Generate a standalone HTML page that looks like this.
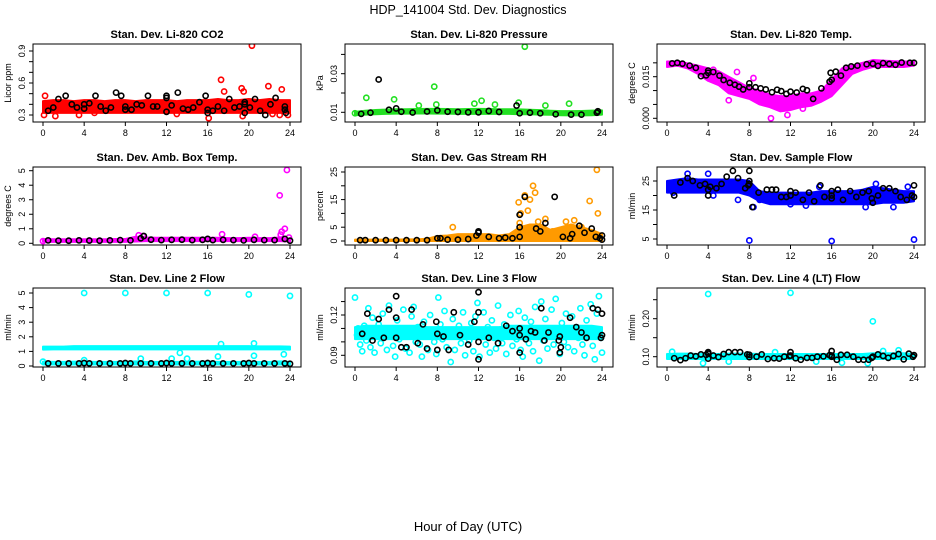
<!DOCTYPE html>
<html><head><meta charset="utf-8"><style>
body{margin:0;background:#fff}
svg{display:block;font-family:"Liberation Sans",sans-serif}
</style></head><body>
<svg id="c" width="936" height="540" viewBox="0 0 936 540">
<text x="468" y="14" text-anchor="middle" font-size="12.5">HDP_141004  Std. Dev. Diagnostics</text>
<text x="468" y="531" text-anchor="middle" font-size="13">Hour of Day (UTC)</text>
</svg>
<script>
const bandHours=[0,1,2,3,4,5,6,7,8,9,10,11,12,13,14,15,16,17,18,19,20,21,22,23,24];
const xTicks=[0,4,8,12,16,20,24];
// P1 CO2
const co2BandLo=[0.32,0.32,0.32,0.32,0.32,0.32,0.32,0.32,0.32,0.32,0.32,0.32,0.32,0.32,0.32,0.32,0.32,0.32,0.32,0.32,0.32,0.32,0.32,0.32,0.32];
const co2BandHi=[0.43,0.44,0.44,0.43,0.44,0.44,0.43,0.44,0.44,0.43,0.44,0.44,0.44,0.43,0.44,0.44,0.44,0.45,0.44,0.44,0.45,0.44,0.45,0.44,0.44];
const co2RedX=[0.1,0.2,1.2,3.5,5,13,16.1,17.3,17.6,19.3,19.5,20.3,21.9,23.2,23.8,22.3,19.4,23];
const co2RedY=[0.3,0.48,0.29,0.3,0.32,0.31,0.27,0.63,0.52,0.55,0.52,0.95,0.57,0.54,0.3,0.31,0.29,0.3];
const co2BlkX=[0.5,1,1.5,2.2,2.8,3.3,4,4,4.5,5.1,5.6,6.1,6.6,7.1,7.6,8,8,8.6,9.1,9.6,10.2,10.7,11.1,12,12,12,12.5,13.1,13.6,14.1,14.6,15.2,15.8,16,16,16.5,17,17.6,18.1,18.6,19.1,19.6,19.6,19.6,20.1,20.6,21.1,21.6,22.1,22.6,23.5,23.5,23.6];
const co2BlkY=[0.34,0.37,0.45,0.48,0.4,0.37,0.4,0.36,0.41,0.48,0.38,0.34,0.37,0.51,0.48,0.38,0.35,0.35,0.4,0.39,0.48,0.38,0.38,0.48,0.46,0.33,0.39,0.51,0.36,0.35,0.37,0.42,0.48,0.35,0.32,0.34,0.38,0.34,0.45,0.37,0.38,0.42,0.32,0.4,0.37,0.45,0.34,0.3,0.4,0.46,0.38,0.35,0.32];
// P2 Pressure
const prBandLo=[0.0085,0.0088,0.009,0.0092,0.0093,0.0093,0.0094,0.0094,0.0093,0.0093,0.0092,0.0092,0.0092,0.0092,0.0092,0.0092,0.009,0.009,0.0088,0.0087,0.0085,0.0084,0.0084,0.0085,0.0088];
const prBandHi=[0.0102,0.0108,0.0112,0.0114,0.0116,0.0116,0.0117,0.0118,0.0118,0.0117,0.0116,0.0117,0.0118,0.0117,0.0116,0.0116,0.0115,0.0113,0.0111,0.0108,0.0106,0.0106,0.0107,0.0109,0.011];
const prGrnX=[1.1,3.8,7.7,12.3,16.5,20.8,15.9,11.6,0,6.2,7.9,13.6,18.5];
const prGrnY=[0.0175,0.0167,0.0233,0.016,0.044,0.0145,0.015,0.0145,0.0095,0.0135,0.014,0.014,0.0135];
const prBlkX=[2.3,0.6,1.5,3.3,4,4.5,5.6,7,8,9,10,11,12,13,14,15.7,16,17,18,19.5,21,22,23.5,23.6];
const prBlkY=[0.027,0.0092,0.0098,0.0113,0.012,0.0103,0.0099,0.0104,0.011,0.0103,0.0102,0.01,0.01,0.0107,0.0102,0.0135,0.0095,0.0098,0.0095,0.009,0.0088,0.0088,0.0098,0.0105];
// P3 Li-820 temp
const tpBandLo=[0.0185,0.019,0.018,0.016,0.0135,0.012,0.009,0.008,0.007,0.005,0.004,0.0025,0.003,0.004,0.0045,0.006,0.008,0.012,0.016,0.0175,0.0185,0.0185,0.0185,0.0185,0.019];
const tpBandHi=[0.0205,0.0205,0.0198,0.019,0.018,0.017,0.015,0.013,0.011,0.01,0.0085,0.008,0.008,0.009,0.009,0.01,0.014,0.018,0.019,0.02,0.021,0.0208,0.0206,0.0205,0.0205];
const tpMagX=[10.1,6.8,11.7,8.4,6,4.5,13.2];
const tpMagY=[0.0,0.0167,0.0012,0.0145,0.0065,0.0175,0.0035];
const tpBlkX=[0.5,1,1.5,2.2,2.8,3.3,3.8,4,4,4.5,5.1,5.5,6.1,6.6,7,7.4,8,8,8.6,9.1,9.6,10.2,10.7,11.1,11.6,12,12.6,13.2,13.6,14.2,15,15.8,15.9,16,16.4,16.9,17.4,17.9,18.5,19.4,20,20.5,21,21.6,22.2,22.8,23.6,24];
const tpBlkY=[0.0198,0.02,0.0197,0.019,0.0182,0.0152,0.0155,0.0172,0.0164,0.0167,0.0154,0.0138,0.0128,0.0121,0.0114,0.0104,0.0126,0.0112,0.0112,0.0108,0.0104,0.0094,0.0103,0.0098,0.0088,0.0096,0.0093,0.0106,0.0101,0.007,0.0108,0.0132,0.0164,0.0139,0.0168,0.0154,0.0182,0.0187,0.019,0.0195,0.0197,0.0189,0.0199,0.0196,0.0193,0.0201,0.02,0.02];
// P4 Amb box temp
const abBandLo=[0.1,0.1,0.1,0.1,0.1,0.1,0.1,0.1,0.1,0.12,0.15,0.15,0.15,0.15,0.15,0.15,0.15,0.15,0.15,0.15,0.15,0.15,0.15,0.15,0.12];
const abBandHi=[0.3,0.28,0.28,0.28,0.28,0.28,0.28,0.3,0.3,0.45,0.4,0.38,0.38,0.38,0.38,0.38,0.38,0.38,0.36,0.36,0.38,0.36,0.36,0.4,0.3];
const abMagX=[9.3,9.7,17.4,20.6,23,23.2,23.5,23.7,23.1,23.9,0];
const abMagY=[0.55,0.5,0.62,0.45,3.3,0.8,1.0,5.05,0.6,0.4,0.15];
const abBlkX=[0.5,1.5,2.5,3.5,4.5,5.5,6.5,7.5,8.5,9.5,9.8,10.5,11.5,12.5,13.5,14.5,15.5,16,16.5,17.5,18.5,19.5,20.5,21.5,22.5,23.5,24];
const abBlkY=[0.2,0.18,0.18,0.2,0.19,0.18,0.2,0.22,0.2,0.35,0.5,0.25,0.22,0.24,0.25,0.22,0.24,0.3,0.22,0.24,0.22,0.2,0.24,0.22,0.22,0.3,0.18];
// P5 Gas stream RH
const rhBandLo=[0,0,0,0,0,0,0,0,0,0,0,0,0,0,0,0,0,0,0,0,0,0,0,0,0];
const rhBandHi=[0.5,0.5,0.5,0.5,0.5,0.6,0.6,0.8,1.8,2,2.5,2.5,2.5,2.5,2,2.5,5,6,6,4,5,6,5,4,2.5];
const rhOrX=[15.9,16.1,16.5,16.8,17,17.3,17.5,18.5,16,22.8,23.5,23.6,9.5,22,21.3,17.8,20.5,19.2];
const rhOrY=[14,10,16.5,11,15,20,17.5,8,6.5,14.5,25.8,10,5,5,7.5,7,7,3.5];
const rhBlkX=[0.5,1,2,3,4,5,6,7,8,8.3,9,10,11,11.8,12,12,13,14,14.6,15.3,16,16,16,16.5,17.6,18,18.5,19.4,20.2,20.9,21.1,21.8,22.3,23,23.4,23.8,24,24];
const rhBlkY=[0.3,0.3,0.3,0.3,0.3,0.3,0.3,0.3,1,1,0.5,0.5,0.7,2,3.5,3,1.5,1,1.2,1,1.5,5,9.5,16,4.5,3.5,6.5,16,1.5,1,2.5,5.5,3,4.5,1.5,1,2,0.5];
// P6 Sample flow
const sfBandLo=[21,21,21,21,21,21,21,21,20,18,17,17,17,17,17,17,17,17,17,17,17,17.5,17.5,17.5,18];
const sfBandHi=[25,25.5,26,25.5,25.5,25.5,25.5,25.5,25,21.5,21,21,21,21,21,21.5,21.5,21.5,21.5,22,23,22.5,22,21.5,21.5];
const sfBluX=[8,16,24,2,4,6.9,9,8.4,22,0.6,4.5,13.5,19.3,12,14.8,20.3,23.4];
const sfBluY=[4.5,4.3,4.8,27.5,27.5,18.5,18.5,16,16,21,20,16.5,16,17,23,24,23];
const sfBlkX=[0.7,1.3,2,2.5,3.2,3.7,4,4,4.2,4.8,5.3,5.8,6.4,6.9,7.6,7.9,8,8,8,8.3,8.9,9.7,10.2,10.6,11.1,11.6,12,12,12.5,13.2,13.8,14.3,14.9,15.3,16,16,16,16.6,17.1,17.8,18.4,19,19.6,19.9,20,20.5,21,21.6,22.2,22.7,23.3,23.8,24,24];
const sfBlkY=[20,24.5,26,25,23.5,24,22,20,23,22.5,24,26.5,28.5,26,22.5,23.5,28.5,25,24,16,21,22,22,22,19.5,19.5,21.5,20,21,18.5,21,18,23.5,19.5,21.5,20,19,22,18.5,21.5,19.5,21,21.5,19,17.5,20,22.5,22.5,21.5,19.5,18.5,20,23.5,19.5];
// P7 Line 2 flow
const l2BandLo=[1.12,1.14,1.14,1.14,1.14,1.14,1.14,1.14,1.14,1.14,1.14,1.14,1.14,1.14,1.14,1.14,1.14,1.14,1.14,1.14,1.14,1.14,1.14,1.14,1.12];
const l2BandHi=[1.33,1.33,1.33,1.36,1.36,1.36,1.36,1.36,1.36,1.36,1.36,1.36,1.36,1.36,1.36,1.36,1.36,1.36,1.36,1.36,1.36,1.34,1.34,1.34,1.33];
const l2LowLo=[0.1,0.1,0.1,0.1,0.1,0.1,0.1,0.1,0.1,0.1,0.1,0.1,0.1,0.1,0.1,0.1,0.1,0.1,0.1,0.1,0.1,0.1,0.1,0.1,0.1];
const l2LowHi=[0.3,0.28,0.28,0.3,0.3,0.28,0.28,0.28,0.28,0.32,0.28,0.28,0.28,0.28,0.28,0.3,0.3,0.28,0.28,0.28,0.28,0.28,0.28,0.32,0.28];
const l2CyX=[4,8,12,16,20,24,0,13.3,17,20.5,23.4,20.5,17.3,12.5,14,9.5,4];
const l2CyY=[5,5,5,5,4.9,4.8,0.3,0.9,0.65,0.7,0.8,1.55,1.5,0.5,0.5,0.5,0.4];
const l2BlkX=[0.5,1.5,2.5,3.5,4,4.5,5.5,6.5,7.5,8,8.5,9.5,10.5,11.5,12,12.5,13.5,14.5,15.5,16,16.5,17.5,18.5,19.5,20,20.5,21.5,22.5,23.5,24];
const l2BlkY=[0.18,0.18,0.18,0.18,0.2,0.18,0.18,0.18,0.18,0.2,0.18,0.18,0.18,0.18,0.2,0.18,0.18,0.18,0.18,0.2,0.18,0.18,0.18,0.18,0.2,0.18,0.18,0.18,0.18,0.15];
// P8 Line 3 flow
const l3BandLo=[0.102,0.102,0.102,0.102,0.102,0.102,0.102,0.102,0.102,0.102,0.102,0.102,0.102,0.102,0.102,0.102,0.102,0.102,0.102,0.102,0.102,0.102,0.102,0.102,0.102];
const l3BandHi=[0.111,0.112,0.112,0.112,0.112,0.112,0.112,0.111,0.111,0.111,0.111,0.111,0.111,0.111,0.111,0.112,0.112,0.112,0.112,0.112,0.112,0.112,0.112,0.112,0.111];
const l3CyX=[0,0.2,0.3,0.5,0.7,0.9,1.1,1.3,1.5,1.7,1.9,2.1,2.3,2.5,2.7,2.9,3.1,3.3,3.5,3.7,3.9,4.1,4.3,4.5,4.7,4.9,5.1,5.3,5.5,5.7,5.9,6.1,6.3,6.5,6.7,6.9,7.1,7.3,7.5,7.7,7.9,8.1,8.3,8.5,8.7,8.9,9.1,9.3,9.5,9.7,9.9,10.1,10.3,10.5,10.7,10.9,11.1,11.3,11.5,11.7,11.9,12.1,12.3,12.5,12.7,12.9,13.1,13.3,13.5,13.7,13.9,14.1,14.3,14.5,14.7,14.9,15.1,15.3,15.5,15.7,15.9,16.1,16.3,16.5,16.7,16.9,17.1,17.3,17.5,17.7,17.9,18.1,18.3,18.5,18.7,18.9,19.1,19.3,19.5,19.7,19.9,20.1,20.3,20.5,20.7,20.9,21.1,21.3,21.5,21.7,21.9,22.1,22.3,22.5,22.7,22.9,23.1,23.3,23.5,23.7,23.9,24];
const l3CyY=[0.133,0.105,0.11,0.098,0.093,0.112,0.101,0.125,0.096,0.118,0.092,0.107,0.113,0.099,0.121,0.104,0.094,0.127,0.109,0.097,0.089,0.116,0.102,0.11,0.124,0.095,0.106,0.092,0.119,0.126,0.1,0.111,0.098,0.089,0.115,0.105,0.094,0.12,0.108,0.1,0.091,0.133,0.113,0.102,0.123,0.096,0.107,0.085,0.117,0.094,0.104,0.112,0.099,0.122,0.09,0.108,0.101,0.114,0.093,0.119,0.129,0.089,0.106,0.122,0.098,0.111,0.092,0.116,0.103,0.095,0.127,0.108,0.099,0.113,0.091,0.105,0.12,0.097,0.11,0.102,0.123,0.094,0.089,0.118,0.106,0.099,0.115,0.093,0.126,0.108,0.086,0.13,0.101,0.117,0.095,0.109,0.124,0.098,0.132,0.104,0.091,0.114,0.1,0.121,0.096,0.107,0.119,0.093,0.111,0.103,0.125,0.098,0.09,0.116,0.106,0.128,0.097,0.087,0.121,0.134,0.103,0.092];
const l3BlkX=[0.7,1.2,1.7,2.3,2.8,3.3,4,4,4,4.5,5,5.5,6.1,6.6,7,7.9,8,8,8.6,9.1,9.6,10.2,11,11.6,12,12,12,12,13,13.9,14.7,15.3,16,16,16,16.6,17.1,17.5,18.1,18.4,18.8,19.8,19.9,19.9,20,20.9,21.5,22,22.5,23.1,23.6,23.9,24,24];
const l3BlkY=[0.106,0.121,0.101,0.117,0.103,0.124,0.103,0.118,0.134,0.096,0.096,0.124,0.099,0.113,0.095,0.115,0.106,0.094,0.104,0.094,0.122,0.105,0.098,0.115,0.087,0.1,0.122,0.137,0.103,0.099,0.112,0.108,0.105,0.11,0.092,0.102,0.108,0.107,0.125,0.101,0.107,0.101,0.104,0.092,0.096,0.118,0.111,0.107,0.103,0.125,0.124,0.103,0.121,0.105];
// P9 Line 4 flow
const l4BandLo=[0.094,0.094,0.094,0.094,0.094,0.094,0.094,0.094,0.094,0.094,0.094,0.094,0.094,0.094,0.094,0.094,0.094,0.094,0.094,0.094,0.094,0.094,0.094,0.094,0.094];
const l4BandHi=[0.107,0.108,0.108,0.107,0.107,0.107,0.108,0.108,0.108,0.107,0.107,0.107,0.107,0.107,0.107,0.107,0.107,0.107,0.107,0.107,0.109,0.109,0.109,0.109,0.107];
const l4CyX=[4,12,20,0.5,3.5,17,19.5,23,21,6,14.5,10.5,22.5];
const l4CyY=[0.265,0.268,0.193,0.113,0.083,0.084,0.083,0.1,0.115,0.087,0.087,0.112,0.117];
const l4BlkX=[0.7,1.3,1.8,2.3,2.8,3.3,3.8,4,4,4,4.5,5,5.5,6,6.6,7.1,7.8,8,8,8.7,9.2,9.8,10.4,10.9,11.4,11.9,12,12,12.5,13,13.6,14.1,14.6,15.2,15.8,16,16,16,16.5,16.9,17.5,18.1,18.6,19.1,19.6,19.9,20,20.5,21,21.5,22,22.5,23,23.5,23.9,24];
const l4BlkY=[0.096,0.091,0.096,0.103,0.101,0.106,0.105,0.112,0.108,0.095,0.103,0.099,0.107,0.112,0.112,0.112,0.106,0.105,0.099,0.1,0.106,0.094,0.096,0.095,0.1,0.102,0.112,0.103,0.096,0.092,0.097,0.097,0.1,0.101,0.104,0.115,0.103,0.1,0.092,0.105,0.105,0.1,0.092,0.092,0.092,0.097,0.1,0.106,0.102,0.097,0.102,0.107,0.093,0.108,0.1,0.104];

const NS="http://www.w3.org/2000/svg";
const svg=document.getElementById('c');
function mk(tag,attrs,parent){const e=document.createElementNS(NS,tag);for(const k in attrs)e.setAttribute(k,attrs[k]);(parent||svg).appendChild(e);return e;}
const colL=[33,345,657], rowT=[44,167,288], rowB=[122,245,367];
const panels=[
 {title:"Stan. Dev. Li-820 CO2",ylab:"Licor ppm",c:0,r:0,v0:0.3,p0:115,v1:0.9,p1:51,ticks:[0.3,0.4,0.5,0.6,0.7,0.8,0.9],labels:[[0.3,"0.3"],[0.6,"0.6"],[0.9,"0.9"]],col:"#ff0000",bands:[[co2BandLo,co2BandHi]],cx:co2RedX,cy:co2RedY,bx:co2BlkX,by:co2BlkY},
 {title:"Stan. Dev. Li-820 Pressure",ylab:"kPa",c:1,r:0,v0:0.01,p0:112.3,v1:0.03,p1:73.7,ticks:[0.01,0.02,0.03,0.04],labels:[[0.01,"0.01"],[0.03,"0.03"]],col:"#22e022",bands:[[prBandLo,prBandHi]],cx:prGrnX,cy:prGrnY,bx:prBlkX,by:prBlkY},
 {title:"Stan. Dev. Li-820 Temp.",ylab:"degrees C",c:2,r:0,v0:0,p0:118.3,v1:0.015,p1:76.7,ticks:[0,0.005,0.01,0.015,0.02],labels:[[0,"0.000"],[0.015,"0.015"]],col:"#ff00ff",bands:[[tpBandLo,tpBandHi]],cx:tpMagX,cy:tpMagY,bx:tpBlkX,by:tpBlkY},
 {title:"Stan. Dev. Amb. Box Temp.",ylab:"degrees C",c:0,r:1,v0:0,p0:243.3,v1:5,p1:170.7,ticks:[0,1,2,3,4,5],labels:[[0,"0"],[1,"1"],[2,"2"],[3,"3"],[4,"4"],[5,"5"]],col:"#ff00ff",bands:[[abBandLo,abBandHi]],cx:abMagX,cy:abMagY,bx:abBlkX,by:abBlkY},
 {title:"Stan. Dev. Gas Stream RH",ylab:"percent",c:1,r:1,v0:0,p0:241,v1:25,p1:172,ticks:[0,5,10,15,20,25],labels:[[0,"0"],[5,"5"],[15,"15"],[25,"25"]],col:"#ff9a00",bands:[[rhBandLo,rhBandHi]],cx:rhOrX,cy:rhOrY,bx:rhBlkX,by:rhBlkY},
 {title:"Stan. Dev. Sample Flow",ylab:"ml/min",c:2,r:1,v0:5,p0:239,v1:25,p1:181,ticks:[5,10,15,20,25],labels:[[5,"5"],[15,"15"],[25,"25"]],col:"#0000ff",bands:[[sfBandLo,sfBandHi]],cx:sfBluX,cy:sfBluY,bx:sfBlkX,by:sfBlkY},
 {title:"Stan. Dev. Line 2 Flow",ylab:"ml/min",c:0,r:2,v0:0,p0:366,v1:5,p1:293,ticks:[0,1,2,3,4,5],labels:[[0,"0"],[1,"1"],[2,"2"],[3,"3"],[4,"4"],[5,"5"]],col:"#00ffff",bands:[[l2BandLo,l2BandHi],[l2LowLo,l2LowHi]],cx:l2CyX,cy:l2CyY,bx:l2BlkX,by:l2BlkY},
 {title:"Stan. Dev. Line 3 Flow",ylab:"ml/min",c:1,r:2,v0:0.09,p0:355.3,v1:0.12,p1:315,ticks:[0.09,0.1,0.11,0.12,0.13],labels:[[0.09,"0.09"],[0.12,"0.12"]],col:"#00ffff",bands:[[l3BandLo,l3BandHi]],cx:l3CyX,cy:l3CyY,bx:l3BlkX,by:l3BlkY},
 {title:"Stan. Dev. Line 4 (LT) Flow",ylab:"ml/min",c:2,r:2,v0:0.1,p0:356.7,v1:0.2,p1:318.7,ticks:[0.1,0.15,0.2,0.25],labels:[[0.1,"0.10"],[0.2,"0.20"]],col:"#00ffff",bands:[[l4BandLo,l4BandHi]],cx:l4CyX,cy:l4CyY,bx:l4BlkX,by:l4BlkY}
];
panels.forEach((p,i)=>{
 const L=colL[p.c],R=L+268,T=rowT[p.r],B=rowB[p.r];
 const xs=h=>L+10+h*247/24;
 const ys=v=>p.p0+(v-p.v0)*(p.p1-p.p0)/(p.v1-p.v0);
 const g=mk('g',{});
 
 
 const cp=mk('clipPath',{id:'cp'+i},g); mk('rect',{x:L,y:T,width:268,height:B-T},cp);
 const t=mk('text',{x:L+134,y:T-6,'text-anchor':'middle','font-size':11,'font-weight':'bold'},g);t.textContent=p.title;
 
 
 const plot=mk('g',{'clip-path':'url(#cp'+i+')'},g);
 p.bands.forEach((bd,bi)=>{
  let pts=bandHours.map((h,k)=>xs(h)+','+ys(bd[1][k]));
  pts=pts.concat(bandHours.slice().reverse().map((h,k)=>{const j=bandHours.length-1-k;return xs(h)+','+ys(bd[0][j]);}));
  const col=p.col;
  const poly=mk('polygon',{points:pts.join(' '),fill:col,stroke:col,'stroke-width':2,'stroke-linejoin':'round'},plot);
  
  
 });
 p.cx.forEach((x,k)=>{
  const c=mk('circle',{cx:xs(x),cy:ys(p.cy[k]),r:2.6,fill:'none',stroke:p.col,'stroke-width':1.6},plot);
  
  
 });
 p.bx.forEach((x,k)=>{
  const c=mk('circle',{cx:xs(x),cy:ys(p.by[k]),r:2.6,fill:'none',stroke:'#000','stroke-width':1.6},plot);
  
  
 });
 mk('rect',{x:L,y:T,width:268,height:B-T,fill:'none',stroke:'#000','stroke-width':1},g);
 mk('line',{x1:xs(0),x2:xs(24),y1:B,y2:B,stroke:'#000'},g);
 xTicks.forEach(h=>{mk('line',{x1:xs(h),x2:xs(h),y1:B,y2:B+4,stroke:'#000'},g);
  const tl=mk('text',{x:xs(h),y:B+14,'text-anchor':'middle','font-size':9},g);tl.textContent=h;
  
  });
 mk('line',{x1:L,x2:L,y1:ys(p.ticks[0]),y2:ys(p.ticks[p.ticks.length-1]),stroke:'#000'},g);
 p.ticks.forEach(v=>mk('line',{x1:L-4,x2:L,y1:ys(v),y2:ys(v),stroke:'#000'},g));
 p.labels.forEach(([v,s])=>{const y=ys(v);const tl=mk('text',{x:L-8,y:y,'text-anchor':'middle','font-size':9,transform:`rotate(-90 ${L-8} ${y})`},g);tl.textContent=s;
  
  });
 const ym=(T+B)/2;
 const yl=mk('text',{x:L-22,y:ym,'text-anchor':'middle','font-size':9,transform:`rotate(-90 ${L-22} ${ym})`},g);yl.textContent=p.ylab;
 
 
});
</script>
</body></html>
